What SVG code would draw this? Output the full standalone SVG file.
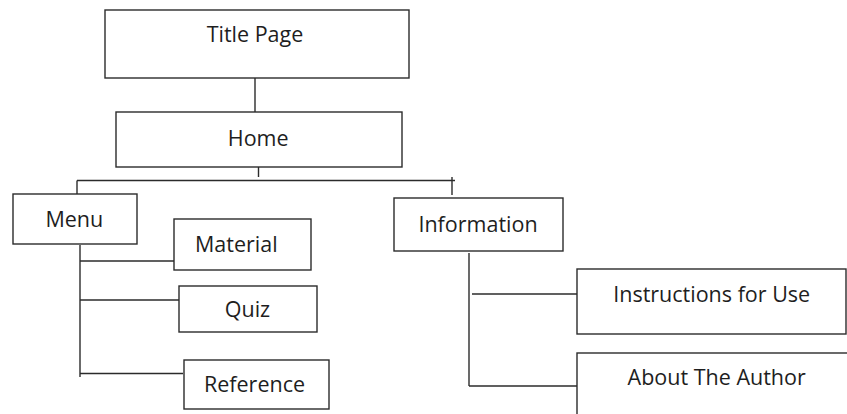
<svg xmlns="http://www.w3.org/2000/svg" width="847" height="414" viewBox="0 0 847 414">
<style>
.box{fill:#fff;stroke:#2b2b2b;stroke-width:1.4}
.lbl{font-family:"Open Sans","Noto Sans",sans-serif;font-size:21.5px;fill:#1e1e1e;text-anchor:middle}
.con line{stroke:#2b2b2b;stroke-width:1.4;fill:none}
</style>
<rect width="847" height="414" fill="#fff"/>
<g id="connectors" class="con">
<line x1="255" y1="78" x2="255" y2="112"/>
<line x1="258.5" y1="167" x2="258.5" y2="177"/>
<line x1="77" y1="180.5" x2="455" y2="180.5"/>
<line x1="77" y1="180.5" x2="77" y2="194"/>
<line x1="452" y1="177" x2="452" y2="195"/>
<line x1="80" y1="245" x2="80" y2="377"/>
<line x1="80" y1="261" x2="174" y2="261"/>
<line x1="80" y1="300" x2="179" y2="300"/>
<line x1="80" y1="373.5" x2="183" y2="373.5"/>
<line x1="469" y1="253" x2="469" y2="386"/>
<line x1="472" y1="294" x2="577" y2="294"/>
<line x1="469" y1="386" x2="577" y2="386"/>
</g>
<g id="title-page"><rect class="box" x="105" y="10" width="304" height="68"/><text class="lbl" x="255" y="42">Title Page</text></g>
<g id="home"><rect class="box" x="116" y="112" width="286" height="55"/><text class="lbl" x="258.2" y="146">Home</text></g>
<g id="menu"><rect class="box" x="13" y="194" width="124" height="50"/><text class="lbl" x="74.3" y="227">Menu</text></g>
<g id="material"><rect class="box" x="174" y="219" width="137" height="51"/><text class="lbl" x="236.3" y="252">Material</text></g>
<g id="quiz"><rect class="box" x="179" y="286" width="138" height="46"/><text class="lbl" x="247.5" y="317">Quiz</text></g>
<g id="reference"><rect class="box" x="184" y="360" width="145" height="49"/><text class="lbl" x="254.5" y="392">Reference</text></g>
<g id="information"><rect class="box" x="394" y="198" width="169" height="53"/><text class="lbl" x="478" y="232">Information</text></g>
<g id="instructions"><rect class="box" x="577" y="269" width="269" height="65"/><text class="lbl" x="711.7" y="302">Instructions for Use</text></g>
<g id="about-author"><rect class="box" x="577" y="353" width="275" height="70"/><text class="lbl" x="716.7" y="385">About The Author</text></g>
</svg>
